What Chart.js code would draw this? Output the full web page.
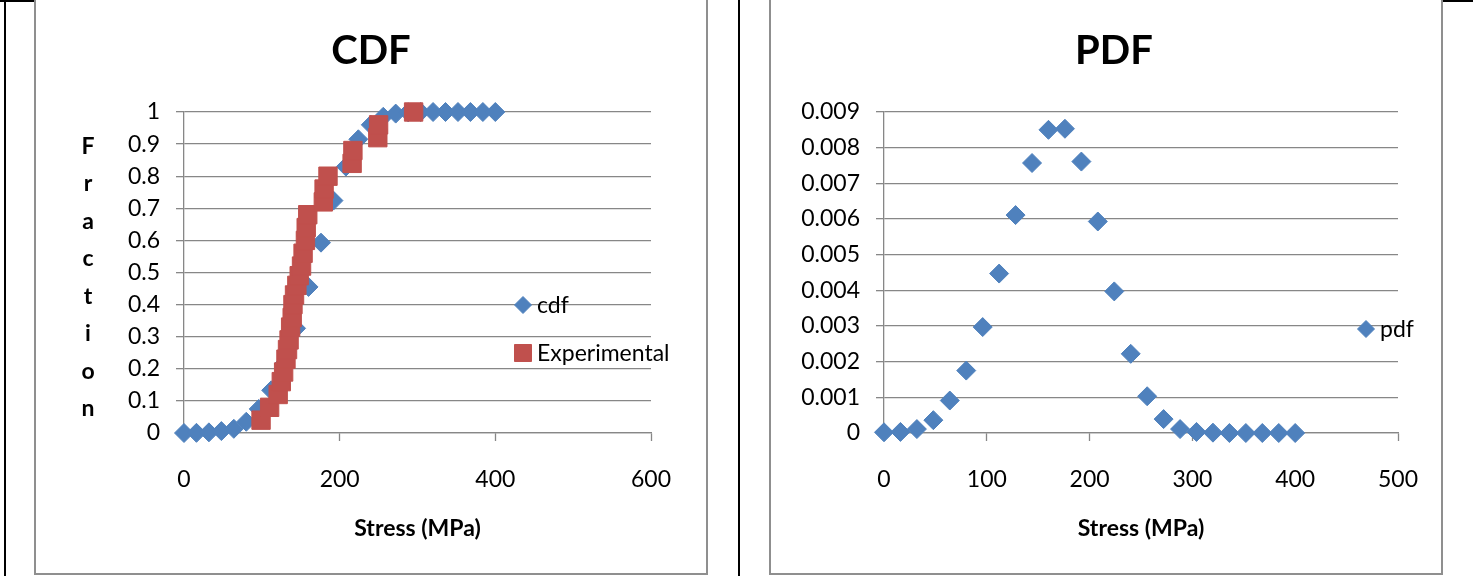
<!DOCTYPE html>
<html>
<head>
<meta charset="utf-8">
<title>CDF and PDF of stress</title>
<script src="https://cdn.jsdelivr.net/npm/chart.js@4.4.1/dist/chart.umd.min.js"></script>
<style>
  html, body { margin: 0; padding: 0; background: #fff; }
  body { position: relative; width: 1473px; height: 576px; overflow: hidden; }
  .rule { position: absolute; background: #000; }
  .panel { position: absolute; top: -2px; width: 674px; height: 577px; box-sizing: border-box;
           border: 2px solid #8f8f8f; background: #fff; }
  canvas { position: absolute; left: 0; top: 0; }
</style>
</head>
<body>
<div class="rule" style="left:4px;top:0;width:2px;height:576px"></div>
<div class="rule" style="left:738px;top:0;width:2px;height:576px"></div>
<div class="rule" style="left:0;top:0;width:35px;height:1.5px"></div>
<div class="rule" style="left:1442px;top:0;width:31px;height:1.5px"></div>

<div class="panel" style="left:34px"><canvas id="cdfChart" width="670" height="573"></canvas></div>
<div class="panel" style="left:769px"><canvas id="pdfChart" width="670" height="573"></canvas></div>

<script>
// Stress grid (MPa) used by the fitted curves
const stressGrid = [0, 16, 32, 48, 64, 80, 96, 112, 128, 144, 160, 176, 192, 208, 224,
                    240, 256, 272, 288, 304, 320, 336, 352, 368, 384, 400];

// Fitted cumulative distribution
const cdfValues = [0, 0.0005, 0.002, 0.006, 0.013, 0.035, 0.075, 0.133, 0.215, 0.326,
                   0.455, 0.593, 0.724, 0.83, 0.915, 0.96, 0.985, 0.995, 0.999, 1,
                   1, 1, 1, 1, 1, 1];

// Fitted probability density
const pdfValues = [0.00002, 0.00003, 0.00011, 0.00036, 0.00091, 0.00175, 0.00297, 0.00447,
                   0.00611, 0.00757, 0.0085, 0.00853, 0.00761, 0.00593, 0.00397, 0.00222,
                   0.00103, 0.00039, 0.00011, 0.00003, 0.00001, 0, 0, 0, 0, 0];

// Experimental failure stresses and their cumulative fraction
const expStress = [99, 110, 121, 125, 128, 131, 133, 135, 137, 139, 140, 142, 145, 148,
                   151, 153, 156, 157, 159, 179, 180, 185, 216, 217, 249, 250, 295];
const expFraction = [0.04, 0.08, 0.12, 0.16, 0.19, 0.23, 0.26, 0.29, 0.33, 0.36, 0.40, 0.43,
                     0.46, 0.49, 0.52, 0.56, 0.60, 0.64, 0.68, 0.72, 0.76, 0.80, 0.84, 0.88,
                     0.92, 0.96, 1.0];

// Axis ranges: [min, max, step]
const cdfXAxis = [0, 600, 200];
const cdfYAxis = [0, 1, 0.1];
const pdfXAxis = [0, 500, 100];
const pdfYAxis = [0, 0.009, 0.001];

const BLUE = '#4F81BD';
const RED = '#C0504D';
const GRID = '#878787';
const FONT = 'Lato';

const toPoints = (xs, ys) => xs.map((x, i) => ({ x: x, y: ys[i] }));

// General number format: no trailing zeros ("1", "0.9", "0.009")
const numFmt = new Intl.NumberFormat('en-US', { maximumFractionDigits: 4, useGrouping: false });
const tickLabel = (v) => numFmt.format(v);

// Legend drawn on top of the plot area at fixed spots
const floatingLegend = {
  id: 'floatingLegend',
  afterDatasetsDraw(chart, args, opts) {
    const ctx = chart.ctx;
    chart.data.datasets.forEach((ds, i) => {
      const spot = opts.spots[i];
      if (!spot) return;
      ctx.save();
      ctx.fillStyle = ds.pointBackgroundColor;
      ctx.strokeStyle = ds.pointBorderColor;
      ctx.lineWidth = 1;
      Chart.helpers.drawPoint(ctx, { pointStyle: ds.pointStyle, radius: spot.r, borderWidth: 1, rotation: 0 },
                              spot.x, spot.y);
      ctx.fillStyle = '#000';
      ctx.font = '23px ' + FONT;
      ctx.textAlign = 'left';
      ctx.textBaseline = 'middle';
      ctx.fillText(ds.label, spot.x + 14, spot.y + 1);
      ctx.restore();
    });
  }
};

// Vertical axis title written as a column of letters
const stackedTitle = {
  id: 'stackedTitle',
  afterDraw(chart, args, opts) {
    if (!opts.text) return;
    const ctx = chart.ctx;
    ctx.save();
    ctx.fillStyle = '#000';
    ctx.font = 'bold 23px ' + FONT;
    ctx.textAlign = 'center';
    ctx.textBaseline = 'alphabetic';
    [...opts.text].forEach((ch, i) => ctx.fillText(ch, opts.x, opts.baseline + i * opts.step));
    ctx.restore();
  }
};

function makeChart(id, cfg) {
  const tickFont = { family: FONT, size: 23 };
  return new Chart(document.getElementById(id), {
    type: 'scatter',
    data: { datasets: cfg.datasets },
    options: {
      responsive: false,
      animation: false,
      events: [],
      layout: { padding: { left: cfg.padLeft, right: 0, top: 0, bottom: 0 } },
      plugins: {
        legend: { display: false },
        tooltip: { enabled: false },
        title: {
          display: true,
          text: cfg.title,
          color: '#000',
          font: { family: FONT, size: 40, weight: 'bold', lineHeight: 1.2 },
          padding: { top: 27, bottom: 37 }
        },
        floatingLegend: { spots: cfg.legendSpots },
        stackedTitle: cfg.yTitle
      },
      scales: {
        x: {
          type: 'linear',
          min: cfg.xAxis[0], max: cfg.xAxis[1],
          afterFit(s) { s.height = 140; s.paddingRight = cfg.plotRightGap; },
          ticks: { stepSize: cfg.xAxis[2], color: '#000', font: tickFont, padding: 25,
                   autoSkip: false, maxRotation: 0, callback: tickLabel },
          grid: { drawOnChartArea: false, drawTicks: true, tickLength: 8, tickColor: GRID, tickWidth: 1.3 },
          border: { display: true, color: GRID, width: 1.3 },
          title: { display: true, text: 'Stress (MPa)', color: '#000',
                   font: { family: FONT, size: 23, weight: 'bold', lineHeight: 1.2 },
                   padding: { top: 0, bottom: 31 } }
        },
        y: {
          type: 'linear',
          min: cfg.yAxis[0], max: cfg.yAxis[1],
          afterFit(s) { s.width = cfg.yAxisWidth; },
          ticks: { stepSize: cfg.yAxis[2], color: '#000', font: tickFont, padding: 16, callback: tickLabel },
          grid: { color: GRID, lineWidth: 1.3, drawTicks: true, tickLength: 8, tickColor: GRID, tickWidth: 1.3 },
          border: { display: true, color: GRID, width: 1.3 }
        }
      }
    },
    plugins: [floatingLegend, stackedTitle]
  });
}

makeChart('cdfChart', {
  title: 'CDF',
  padLeft: 0,
  yAxisWidth: 148,
  plotRightGap: 55,
  xAxis: cdfXAxis,
  yAxis: cdfYAxis,
  yTitle: { text: 'Fraction', x: 52, baseline: 153.5, step: 37.5 },
  legendSpots: [{ x: 487, y: 305, r: 8.5 }, { x: 487, y: 353, r: 12 }],
  datasets: [
    {
      label: 'cdf',
      data: toPoints(stressGrid, cdfValues),
      pointStyle: 'rectRot', pointRadius: 9.5, borderWidth: 1,
      pointBackgroundColor: BLUE, pointBorderColor: BLUE,
      backgroundColor: BLUE, borderColor: BLUE,
      clip: false, order: 2
    },
    {
      label: 'Experimental',
      data: toPoints(expStress, expFraction),
      pointStyle: 'rect', pointRadius: 13, borderWidth: 1,
      pointBackgroundColor: RED, pointBorderColor: RED,
      backgroundColor: RED, borderColor: RED,
      clip: false, order: 1
    }
  ]
});

makeChart('pdfChart', {
  title: 'PDF',
  padLeft: 16,
  yAxisWidth: 97,
  plotRightGap: 43,
  xAxis: pdfXAxis,
  yAxis: pdfYAxis,
  yTitle: { text: '' },
  legendSpots: [{ x: 595, y: 329, r: 8.5 }],
  datasets: [
    {
      label: 'pdf',
      data: toPoints(stressGrid, pdfValues),
      pointStyle: 'rectRot', pointRadius: 9.5, borderWidth: 1,
      pointBackgroundColor: BLUE, pointBorderColor: BLUE,
      backgroundColor: BLUE, borderColor: BLUE,
      clip: false
    }
  ]
});
</script>
</body>
</html>
